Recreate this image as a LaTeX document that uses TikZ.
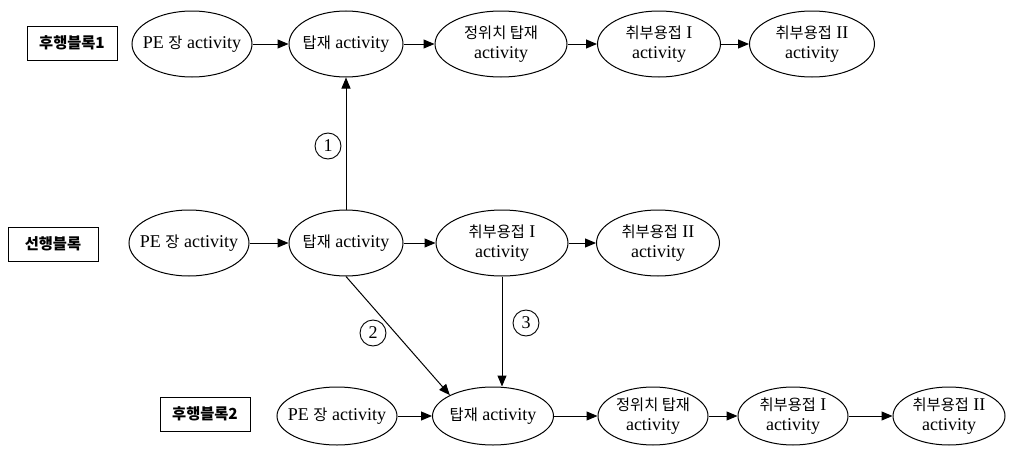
\documentclass[tikz,border=0pt]{standalone}
\usepackage{fontspec}
\setmainfont{Liberation Serif}
\newfontfamily\kr[Scale=0.85]{Noto Sans CJK KR}
\usetikzlibrary{arrows.meta}
\usetikzlibrary{shapes.geometric}

\tikzset{
  act/.style={draw, ellipse, line width=1pt, inner sep=-20pt, minimum height=66, align=center, font=\fontsize{18}{20}\selectfont},
  lowact/.style={act, minimum height=58},
  blk/.style={draw, rectangle, line width=1pt, minimum width=90, minimum height=34, inner sep=0pt, font=\fontsize{18}{20}\selectfont\kr\bfseries},
  num/.style={draw, circle, line width=0.9pt, minimum size=26, inner sep=0pt, font=\fontsize{18}{18}\selectfont},
  arr/.style={line width=1pt, -{Triangle[length=11pt,width=9pt]}}
}

\begin{document}
\begin{tikzpicture}[x=1pt,y=-1pt]
\useasboundingbox (0,0) rectangle (1013,455);
\node[blk] (b1) at (72,43) {후행블록1};
\node[act, minimum width=120] (b1pe) at (192,44) {PE {\kr 장} activity};
\node[act, minimum width=114] (b1tj) at (346,44) {{\kr 탑재} activity};
\node[act, minimum width=132] (b1jw) at (501,44) {{\kr 정위치 탑재}\\activity};
\node[act, minimum width=123] (b1w1) at (659,44) {{\kr 취부용접} I\\activity};
\node[act, minimum width=125] (b1w2) at (812,44) {{\kr 취부용접} II\\activity};

\node[blk] (b0) at (53,244) {선행블록};
\node[act, minimum width=120] (b0pe) at (189,243) {PE {\kr 장} activity};
\node[act, minimum width=114] (b0tj) at (346,243) {{\kr 탑재} activity};
\node[act, minimum width=132] (b0w1) at (502,243) {{\kr 취부용접} I\\activity};
\node[act, minimum width=123] (b0w2) at (658,243) {{\kr 취부용접} II\\activity};

\node[blk] (b2) at (205,414) {후행블록2};
\node[lowact, minimum width=120] (b2pe) at (337,416) {PE {\kr 장} activity};
\node[lowact, minimum width=121] (b2tj) at (493,416) {{\kr 탑재} activity};
\node[lowact, minimum width=110] (b2jw) at (653,416) {{\kr 정위치 탑재}\\activity};
\node[lowact, minimum width=110] (b2w1) at (793,416) {{\kr 취부용접} I\\activity};
\node[lowact, minimum width=112] (b2w2) at (949,416) {{\kr 취부용접} II\\activity};

\foreach \a/\b in {b1pe/b1tj,b1tj/b1jw,b1jw/b1w1,b1w1/b1w2,b0pe/b0tj,b0tj/b0w1,b0w1/b0w2,b2pe/b2tj,b2tj/b2jw,b2jw/b2w1,b2w1/b2w2}
  \draw[arr] (\a) -- (\b);

\draw[arr] (b0tj.north) -- (b1tj.south);
\draw[arr] (b0tj.south) -- (b2tj.north west);
\draw[arr] (b0w1.south) -- (b0w1.south |- b2tj.north);

\node[num] (n1) at (328,146) {1};
\node[num] (n2) at (373,333) {2};
\node[num] (n3) at (526,323) {3};
\end{tikzpicture}
\end{document}
